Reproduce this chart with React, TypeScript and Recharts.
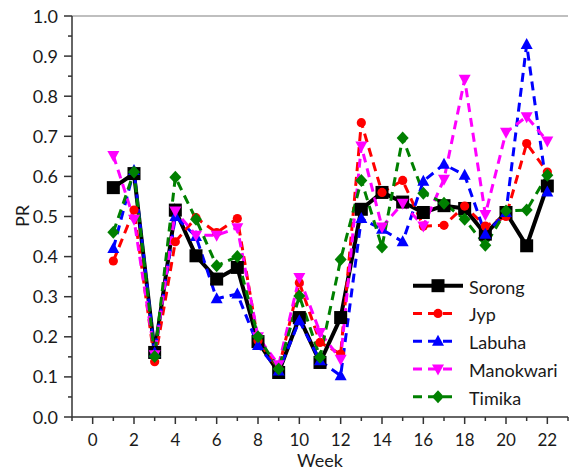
import React from 'react';
import { LineChart, Line, XAxis, YAxis, ReferenceLine, Legend } from 'recharts';

const weeks = [1, 2, 3, 4, 5, 6, 7, 8, 9, 10, 11, 12, 13, 14, 15, 16, 17, 18, 19, 20, 21, 22];
const sorong = [0.572, 0.607, 0.161, 0.516, 0.402, 0.344, 0.373, 0.188, 0.111, 0.248, 0.136, 0.248, 0.518, 0.56, 0.536, 0.51, 0.527, 0.52, 0.456, 0.51, 0.427, 0.576];
const jyp = [0.389, 0.516, 0.138, 0.437, 0.497, 0.46, 0.495, 0.19, 0.12, 0.335, 0.186, 0.157, 0.734, 0.56, 0.59, 0.476, 0.478, 0.526, 0.476, 0.5, 0.682, 0.611];
const labuha = [0.42, 0.615, 0.16, 0.5, 0.45, 0.295, 0.307, 0.178, 0.115, 0.24, 0.14, 0.103, 0.495, 0.468, 0.437, 0.588, 0.63, 0.603, 0.456, 0.51, 0.929, 0.561];
const manokwari = [0.652, 0.493, 0.155, 0.514, 0.453, 0.453, 0.472, 0.2, 0.13, 0.348, 0.211, 0.144, 0.676, 0.474, 0.533, 0.476, 0.593, 0.842, 0.505, 0.71, 0.749, 0.688];
const timika = [0.461, 0.611, 0.151, 0.598, 0.493, 0.377, 0.4, 0.2, 0.12, 0.302, 0.149, 0.393, 0.59, 0.424, 0.696, 0.558, 0.533, 0.493, 0.428, 0.514, 0.516, 0.603];

const seriesNames = ['Sorong', 'Jyp', 'Labuha', 'Manokwari', 'Timika'];
const xTicks = [-1, 0, 1, 2, 3, 4, 5, 6, 7, 8, 9, 10, 11, 12, 13, 14, 15, 16, 17, 18, 19, 20, 21, 22, 23];
const yTicks = [0, 0.05, 0.1, 0.15, 0.2, 0.25, 0.3, 0.35, 0.4, 0.45, 0.5, 0.55, 0.6, 0.65, 0.7, 0.75, 0.8, 0.85, 0.9, 0.95, 1.0];

const data = weeks.map((w, i) => ({
  week: w,
  Sorong: sorong[i],
  Jyp: jyp[i],
  Labuha: labuha[i],
  Manokwari: manokwari[i],
  Timika: timika[i],
}));

const FONT = 'Lato, "Open Sans", sans-serif';
const TEXT = '#1a1a1a';
const AXIS = '#333';

type Shape = 'square' | 'circle' | 'up' | 'down' | 'diamond';
const styles: { color: string; shape: Shape; width: number; dash?: string }[] = [
  { color: '#000000', shape: 'square', width: 4 },
  { color: '#ff0000', shape: 'circle', width: 3, dash: '9 6' },
  { color: '#0000ff', shape: 'up', width: 3, dash: '9 6' },
  { color: '#ff00ff', shape: 'down', width: 3, dash: '9 6' },
  { color: '#008000', shape: 'diamond', width: 3, dash: '9 6' },
];

function marker(shape: Shape, cx: number, cy: number, color: string, key?: string | number) {
  if (cx == null || cy == null || isNaN(cx) || isNaN(cy)) return <g key={key} />;
  switch (shape) {
    case 'square':
      return <rect key={key} x={cx - 6.5} y={cy - 6.5} width={13} height={13} fill={color} />;
    case 'circle':
      return <circle key={key} cx={cx} cy={cy} r={4.6} fill={color} />;
    case 'up':
      return <polygon key={key} points={`${cx},${cy - 6.5} ${cx - 6},${cy + 4.5} ${cx + 6},${cy + 4.5}`} fill={color} />;
    case 'down':
      return <polygon key={key} points={`${cx},${cy + 6.5} ${cx - 6},${cy - 4.5} ${cx + 6},${cy - 4.5}`} fill={color} />;
    case 'diamond':
    default:
      return <polygon key={key} points={`${cx},${cy - 6.5} ${cx + 6},${cy} ${cx},${cy + 6.5} ${cx - 6},${cy}`} fill={color} />;
  }
}

const XTick = (props: any) => {
  const { x, y, payload } = props;
  const v = payload.value as number;
  const major = Math.abs(v % 2) === 0;
  return (
    <g>
      <line x1={x} y1={y} x2={x} y2={y + (major ? 7 : 4)} stroke={AXIS} strokeWidth={1.5} />
      {major && v >= 0 && (
        <text x={x} y={y + 29} textAnchor="middle" fontSize={17} fontFamily={FONT} fill={TEXT}>
          {v}
        </text>
      )}
    </g>
  );
};

const YTick = (props: any) => {
  const { x, y, payload } = props;
  const v = payload.value as number;
  const major = Math.round(v * 100) % 10 === 0;
  return (
    <g>
      <line x1={x} y1={y} x2={x - (major ? 8 : 4)} y2={y} stroke={AXIS} strokeWidth={1.5} />
      {major && (
        <text x={x - 14} y={y + 6.5} textAnchor="end" fontSize={18} fontFamily={FONT} fill={TEXT}>
          {v.toFixed(1)}
        </text>
      )}
    </g>
  );
};

const renderLegend = () => (
  <svg width={183} height={140} style={{ display: 'block' }}>
    {seriesNames.map((name, i) => {
      const s = styles[i];
      const y = 15.7 + i * 27.75;
      return (
        <g key={name}>
          <line x1={13} x2={s.dash ? 53 : 63} y1={y} y2={y} stroke={s.color} strokeWidth={s.width} strokeDasharray={s.dash} />
          {marker(s.shape, 38, y, s.color)}
          <text x={69} y={y + 8} fontSize={18} fontFamily={FONT} fill={TEXT}>
            {name}
          </text>
        </g>
      );
    })}
  </svg>
);

export default function App() {
  return (
    <div style={{ position: 'absolute', left: 0, top: 0, width: 583, height: 470, background: '#fff' }}>
      <LineChart width={583} height={470} data={data} margin={{ top: 16, right: 15, left: 0, bottom: 0 }}>
        <ReferenceLine y={1} stroke="#aaaaaa" strokeWidth={1.5} />
        <XAxis
          dataKey="week"
          type="number"
          domain={[-1, 23]}
          ticks={xTicks}
          interval={0}
          height={53}
          tickSize={0}
          tickMargin={0}
          tickLine={false}
          axisLine={{ stroke: AXIS, strokeWidth: 1.5 }}
          tick={<XTick />}
          label={{
            content: () => (
              <text x={320} y={467} textAnchor="middle" fontSize={18} fontFamily={FONT} fill={TEXT}>
                Week
              </text>
            ),
          }}
        />
        <YAxis
          type="number"
          domain={[0, 1]}
          ticks={yTicks}
          interval={0}
          width={72}
          tickSize={0}
          tickMargin={0}
          tickLine={false}
          axisLine={{ stroke: AXIS, strokeWidth: 1.5 }}
          tick={<YTick />}
          label={{
            content: () => (
              <text x={29} y={216} transform="rotate(-90 29 216)" textAnchor="middle" fontSize={18} fontFamily={FONT} fill={TEXT}>
                PR
              </text>
            ),
          }}
        />
        {seriesNames.map((name, i) => {
          const s = styles[i];
          return (
            <Line
              key={name}
              dataKey={name}
              type="linear"
              stroke={s.color}
              strokeWidth={s.width}
              strokeDasharray={s.dash}
              isAnimationActive={false}
              activeDot={false}
              dot={(p: any) => marker(s.shape, p.cx, p.cy, s.color, `${name}-${p.index}`)}
            />
          );
        })}
        <Legend
          layout="vertical"
          align="center"
          verticalAlign="middle"
          content={renderLegend}
          wrapperStyle={{ position: 'absolute', left: 400, top: 270, width: 183, height: 140 }}
        />
      </LineChart>
    </div>
  );
}
